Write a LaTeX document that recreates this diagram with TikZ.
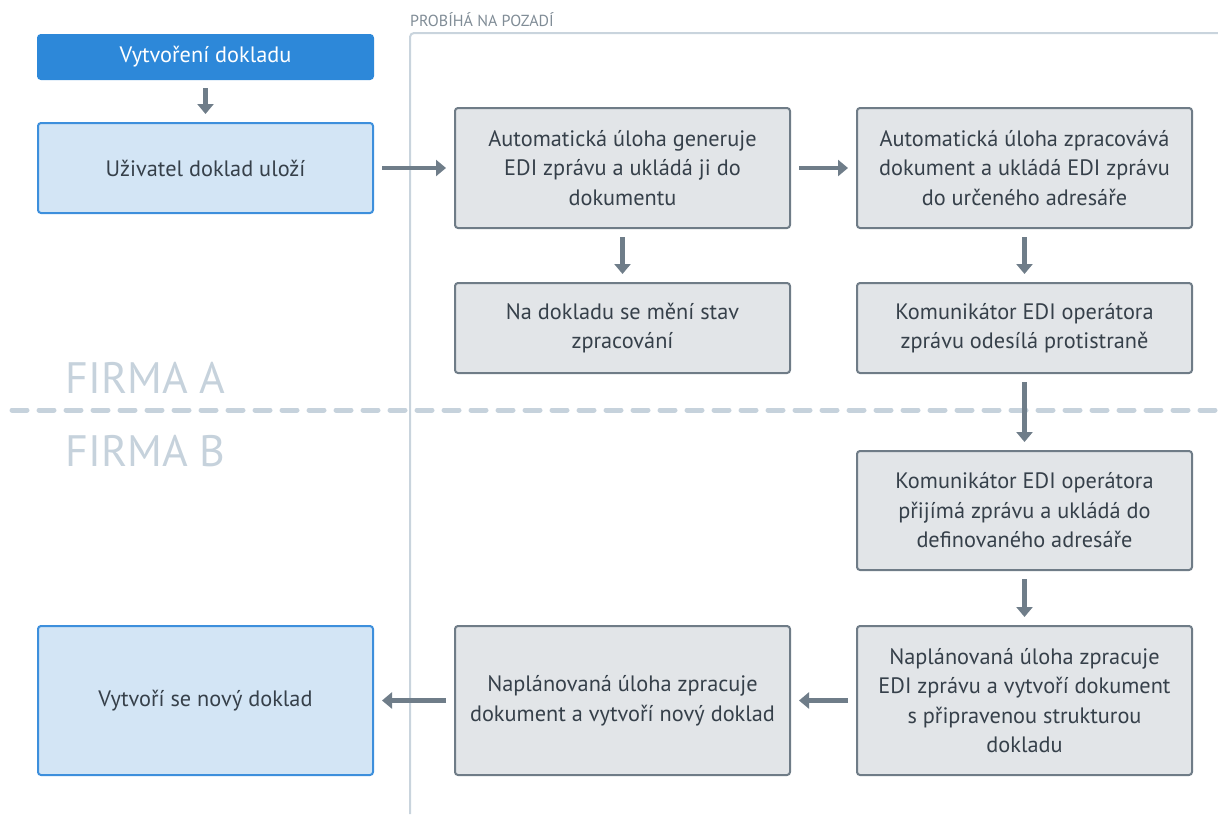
\documentclass[tikz,border=0pt]{standalone}
\usepackage{fontspec}
\setmainfont{PT Sans}
\usetikzlibrary{arrows.meta}

\definecolor{txtdark}{HTML}{36404A}
\definecolor{startblue}{HTML}{2D88D9}
\definecolor{userfill}{HTML}{D3E5F5}
\definecolor{userline}{HTML}{3D8FDC}
\definecolor{taskfill}{HTML}{E2E5E8}
\definecolor{taskline}{HTML}{6F7C87}
\definecolor{arrowgray}{HTML}{6F7D89}
\definecolor{firmagray}{HTML}{C6D2DC}
\definecolor{framegray}{HTML}{C9D4DD}
\definecolor{labelgray}{HTML}{808C96}

\tikzset{
    box/.style={rounded corners=3pt, line width=2pt, minimum width=335pt,
        align=center, text=txtdark, font=\fontsize{22.3}{29.5}\selectfont},
    startbox/.style={box, fill=startblue, draw=startblue, text=white, minimum height=44pt},
    userbox/.style={box, fill=userfill, draw=userline},
    taskbox/.style={box, fill=taskfill, draw=taskline},
    flow/.style={draw=arrowgray, line width=4.5pt, shorten <=8pt, shorten >=8pt,
        -{Triangle[width=16pt, length=10pt]}},
    firma/.style={anchor=base west, text=firmagray, font=\fontsize{44}{44}\selectfont}
}

\begin{document}
\begin{tikzpicture}[x=1pt, y=-1pt]
        \useasboundingbox (0,0) rectangle (1218,814);

        % pozadi a deleni firem
        \draw[framegray, line width=2pt, rounded corners=4pt] (410,814) -- (410,33) -- (1220,33);
        \node[anchor=base west, inner sep=0pt, text=labelgray, font=\fontsize{16}{16}\selectfont] (bg) at (410,26) {PROBÍHÁ NA POZADÍ};
        \draw[firmagray, line width=5pt, line cap=round, dash pattern=on 15pt off 12pt] (12,410) -- (1218,410);
        \node[firma] (firmaA) at (62,393) {FIRMA A};
        \node[firma] (firmaB) at (62,466) {FIRMA B};

        % uzivatel
        \node[startbox] (start) at (205.5,57) {Vytvoření dokladu};
        \node[userbox, minimum height=90pt] (save) at (205.5,168) {Uživatel doklad uloží};
        \node[userbox, minimum height=149pt] (newdoc) at (205.5,700.5) {Vytvoří se nový doklad};

        % automaticke ulohy
        \node[taskbox, minimum height=120pt] (gen) at (622.5,168) {Automatická úloha generuje\\EDI zprávu a ukládá ji do\\dokumentu};
        \node[taskbox, minimum height=120pt] (proc) at (1024.5,168) {Automatická úloha zpracovává\\dokument a ukládá EDI zprávu\\do určeného adresáře};
        \node[taskbox, minimum height=90pt] (state) at (622.5,328) {Na dokladu se mění stav\\zpracování};
        \node[taskbox, minimum height=90pt] (send) at (1024.5,328) {Komunikátor EDI operátora\\zprávu odesílá protistraně};
        \node[taskbox, minimum height=119pt] (recv) at (1024.5,510.5) {Komunikátor EDI operátora\\přijímá zprávu a ukládá do\\definovaného adresáře};
        \node[taskbox, minimum height=149pt] (plan) at (1024.5,700.5) {Naplánovaná úloha zpracuje\\EDI zprávu a vytvoří dokument\\s připravenou strukturou\\dokladu};
        \node[taskbox, minimum height=149pt] (create) at (622.5,700.5) {Naplánovaná úloha zpracuje\\dokument a vytvoří nový doklad};

        \draw[flow] (start) -- (save);
        \draw[flow] (save) -- (gen);
        \draw[flow] (gen) -- (proc);
        \draw[flow] (gen) -- (state);
        \draw[flow] (proc) -- (send);
        \draw[flow] (send) -- (recv);
        \draw[flow] (recv) -- (plan);
        \draw[flow] (plan) -- (create);
        \draw[flow] (create) -- (newdoc);
    \end{tikzpicture}
\end{document}
